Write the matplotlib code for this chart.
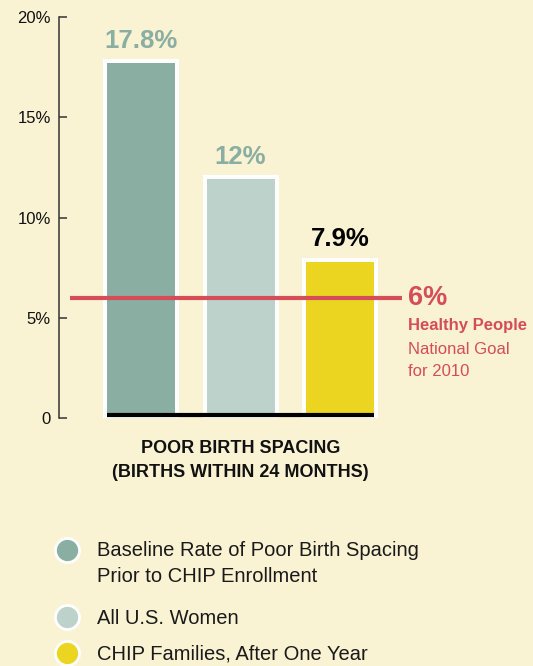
import matplotlib
matplotlib.use("Agg")
import matplotlib.pyplot as plt

# ---- data ----
categories = ["Baseline Rate of Poor Birth Spacing\nPrior to CHIP Enrollment",
              "All U.S. Women",
              "CHIP Families, After One Year"]
values = [17.8, 12.0, 7.9]
value_labels = ["17.8%", "12%", "7.9%"]
goal_value = 6.0
goal_label = "6%"
yticks = [0, 5, 10, 15, 20]
ytick_labels = ["0", "5%", "10%", "15%", "20%"]

# ---- styles ----
BG = "#f9f2d3"
bar_colors = ["#8aaea2", "#bdd2ca", "#ebd521"]
label_colors = ["#8aaea2", "#8aaea2", "#000000"]
RED = "#d44d57"
FONT = "Liberation Sans"

plt.rcParams["font.family"] = [FONT, "DejaVu Sans"]

W, H = 533, 666
fig = plt.figure(figsize=(W / 100, H / 100), dpi=100, facecolor=BG)

ax_left, ax_right, ax_bottom, ax_top = 59, 533, 418, 17
ax = fig.add_axes([ax_left / W, (H - ax_bottom) / H,
                   (ax_right - ax_left) / W, (ax_bottom - ax_top) / H])
ax.set_facecolor("none")

x = list(range(len(values)))
step_px = 99.5
first_center_px = 141
ax.set_xlim((ax_left - first_center_px) / step_px, (ax_right - first_center_px) / step_px)
ax.set_ylim(0, 20)

bar_w = 72 / step_px
ax.bar(x, values, width=bar_w, color=bar_colors, edgecolor="white",
       linewidth=2.9, zorder=2)

# black baseline across bars
ax.plot([x[0] - 34 / step_px, x[-1] + 34 / step_px], [0.15, 0.15],
        color="black", lw=3, solid_capstyle="butt", zorder=4, clip_on=False)

# value labels
for xi, v, lab, c in zip(x, values, value_labels, label_colors):
    ax.annotate(lab, (xi, v), xytext=(0, 6), textcoords="offset points",
                ha="center", va="bottom", fontsize=18.5, fontweight="bold",
                color=c, zorder=5)

# goal line
line_x0 = (70 - first_center_px) / step_px
line_x1 = (402 - first_center_px) / step_px
ax.plot([line_x0, line_x1], [goal_value, goal_value], color=RED, lw=3,
        solid_capstyle="butt", zorder=3)
ax.annotate(goal_label, (line_x1, goal_value), xytext=(4, 0),
            textcoords="offset points", ha="left", va="center",
            fontsize=19.5, fontweight="bold", color=RED)
ax.annotate("Healthy People", (line_x1, goal_value), xytext=(4, -20),
            textcoords="offset points", ha="left", va="center",
            fontsize=12, fontweight="bold", color=RED)
ax.annotate("National Goal", (line_x1, goal_value), xytext=(4, -37),
            textcoords="offset points", ha="left", va="center",
            fontsize=12, color=RED)
ax.annotate("for 2010", (line_x1, goal_value), xytext=(4, -53),
            textcoords="offset points", ha="left", va="center",
            fontsize=12, color=RED)

# axes styling
for s in ["top", "right", "bottom"]:
    ax.spines[s].set_visible(False)
ax.spines["left"].set_color("#333333")
ax.spines["left"].set_linewidth(1.1)
ax.set_yticks(yticks)
ax.set_yticklabels(ytick_labels)
ax.tick_params(axis="y", direction="in", length=6, width=1.1, color="#333333",
               pad=6, labelsize=12, labelcolor="#111111")
ax.set_xticks([])

# x-axis title
ax.text(1, -0.077, "POOR BIRTH SPACING", transform=ax.get_xaxis_transform(),
        ha="center", va="center", fontsize=13, fontweight="bold", color="#111111")
ax.text(1, -0.135, "(BIRTHS WITHIN 24 MONTHS)", transform=ax.get_xaxis_transform(),
        ha="center", va="center", fontsize=13, fontweight="bold", color="#111111")

# legend (manual)
lax = fig.add_axes([0, 0, 1, 1])
lax.set_xlim(0, W)
lax.set_ylim(H, 0)
lax.axis("off")
lax.set_facecolor("none")
rows_y = [550, 617, 653]
for c, cat, ry in zip(bar_colors, categories, rows_y):
    lax.scatter([67], [ry], s=300, color=c, edgecolor="white", linewidth=2, zorder=3)
    for j, line in enumerate(cat.split("\n")):
        lax.text(97, ry + 1 + j * 26, line, ha="left", va="center",
                 fontsize=14.5, color="#1a1a1a")

fig.savefig("out.png", dpi=100, facecolor=BG)
